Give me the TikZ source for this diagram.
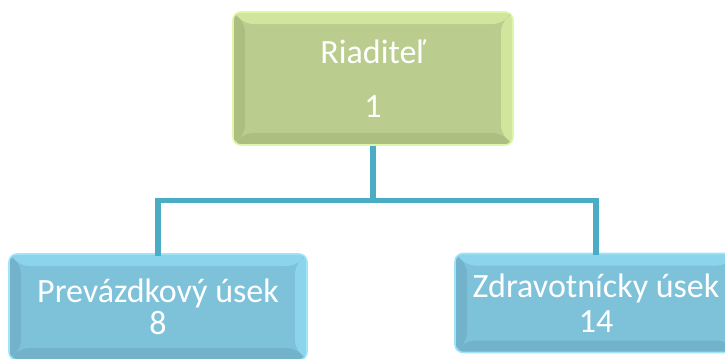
\documentclass[tikz,border=0pt]{standalone}
\usepackage{fontspec}
\setmainfont{Carlito}
\usetikzlibrary{calc}
\definecolor{gbase}{RGB}{186,204,142}
\definecolor{glight}{RGB}{208,230,156}
\definecolor{gdark}{RGB}{172,190,128}
\definecolor{gedge}{RGB}{222,245,170}
\definecolor{bbase}{RGB}{126,194,218}
\definecolor{blight}{RGB}{140,212,236}
\definecolor{bdark}{RGB}{114,178,202}
\definecolor{bedge}{RGB}{160,228,250}
\definecolor{conn}{RGB}{75,172,198}
\tikzset{
  bevel/.style n args={4}{
    rounded corners=6pt, fill=#1, draw=#4, line width=1.2pt,
    text=white, align=center, inner sep=0pt,
    font=\fontsize{25.5}{24}\selectfont,
    path picture={
      \coordinate (pnw) at (path picture bounding box.north west);
      \coordinate (pne) at (path picture bounding box.north east);
      \coordinate (psw) at (path picture bounding box.south west);
      \coordinate (pse) at (path picture bounding box.south east);
      \fill[#2] (pnw) -- (pne) -- ([shift={(-9pt,-9pt)}]pne) -- ([shift={(9pt,-9pt)}]pnw) -- cycle;
      \fill[#2] (pne) -- (pse) -- ([shift={(-9pt,9pt)}]pse) -- ([shift={(-9pt,-9pt)}]pne) -- cycle;
      \fill[#3] (pnw) -- (psw) -- ([shift={(9pt,9pt)}]psw) -- ([shift={(9pt,-9pt)}]pnw) -- cycle;
      \fill[#3] (psw) -- (pse) -- ([shift={(-9pt,9pt)}]pse) -- ([shift={(9pt,9pt)}]psw) -- cycle;
    }
  },
  greenbox/.style={bevel={gbase}{glight}{gdark}{gedge}},
  bluebox/.style={bevel={bbase}{blight}{bdark}{bedge}},
  connector/.style={draw=conn, line width=3.8pt}
}
\begin{document}
\begin{tikzpicture}[x=0.75pt,y=-0.75pt]
\useasboundingbox (0,0) rectangle (725,358);
\clip (0,0) rectangle (725,358);
\node[greenbox, minimum width=280*0.75pt, minimum height=133*0.75pt] (top) at (373,78.5) {Riaditeľ\\[16.5pt]1};
\node[bluebox, minimum width=298*0.75pt, minimum height=106*0.75pt] (left) at (158,307) {Prevázdkový úsek\\8};
\node[bluebox, minimum width=282*0.75pt, minimum height=99*0.75pt] (right) at (596,303) {Zdravotnícky úsek\\[2pt]14};
\coordinate (mid) at ($(top.south)+(0,55)$);
\draw[connector] (top.south) -- (mid);
\draw[connector, line cap=rect] (mid) -| (left.north);
\draw[connector, line cap=rect] (mid) -| (right.north);
\end{tikzpicture}
\end{document}
